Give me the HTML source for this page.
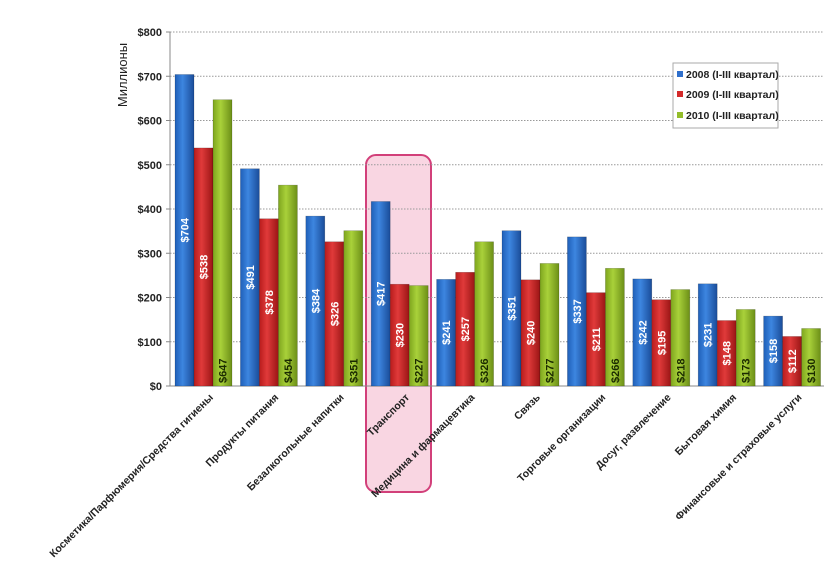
<!DOCTYPE html>
<html><head><meta charset="utf-8"><style>
body{margin:0;background:#fff;font-family:"Liberation Sans","DejaVu Sans",sans-serif}
svg{display:block}
</style></head><body>
<svg id="chart" width="828" height="565" viewBox="0 0 828 565" xmlns="http://www.w3.org/2000/svg">
<defs>
<linearGradient id="gb" x1="0" x2="1"><stop offset="0" stop-color="#1f5fb8"/><stop offset="0.4" stop-color="#3d86e0"/><stop offset="1" stop-color="#1a4c99"/></linearGradient>
<linearGradient id="gr" x1="0" x2="1"><stop offset="0" stop-color="#b81c1c"/><stop offset="0.4" stop-color="#e03a3a"/><stop offset="1" stop-color="#9a1515"/></linearGradient>
<linearGradient id="gg" x1="0" x2="1"><stop offset="0" stop-color="#7ea51e"/><stop offset="0.4" stop-color="#a9d13a"/><stop offset="1" stop-color="#6c8f17"/></linearGradient>
</defs>
<rect x="366" y="155" width="65" height="337" rx="10" fill="#f9d6e2" stroke="#d2407a" stroke-width="2"/>
<g id="grid"></g><g id="bars"></g><g id="labels"></g>
<text transform="translate(127,75) rotate(-90)" text-anchor="middle" font-size="13" fill="#222">Миллионы</text>
<g>
<rect x="673" y="63" width="105" height="65" fill="#fff" stroke="#aaa"/>
<rect x="677" y="71" width="6" height="6" fill="#2e6fcc"/>
<text x="686" y="78" font-size="10.5" font-weight="bold" fill="#222">2008 (I-III квартал)</text>
<rect x="677" y="91" width="6" height="6" fill="#d42a2a"/>
<text x="686" y="98" font-size="10.5" font-weight="bold" fill="#222">2009 (I-III квартал)</text>
<rect x="677" y="112" width="6" height="6" fill="#93bd2a"/>
<text x="686" y="119" font-size="10.5" font-weight="bold" fill="#222">2010 (I-III квартал)</text>
</g>
</svg>
<script>
const categories=["Косметика/Парфюмерия/Средства гигиены","Продукты питания","Безалкогольные напитки","Транспорт","Медицина и фармацевтика","Связь","Торговые организации","Досуг, развлечение","Бытовая химия","Финансовые и страховые услуги"];
const s2008=[704,491,384,417,241,351,337,242,231,158];
const s2009=[538,378,326,230,257,240,211,195,148,112];
const s2010=[647,454,351,227,326,277,266,218,173,130];
const ticks=[0,100,200,300,400,500,600,700,800];
const NS="http://www.w3.org/2000/svg";
const X0=170,X1=824,Y0=386,Y1=32;
const cw=(X1-X0)/categories.length;
const y=v=>Y0-(v/800)*(Y0-Y1);
function mk(t,a,p){const e=document.createElementNS(NS,t);for(const k in a)e.setAttribute(k,a[k]);p.appendChild(e);return e;}
const grid=document.getElementById('grid'),bars=document.getElementById('bars'),labels=document.getElementById('labels');
ticks.forEach(t=>{
 if(t>0){const l=mk('line',{x1:X0,x2:X1,y1:y(t),y2:y(t),stroke:'#999','stroke-dasharray':'1.5,1.5'},grid);
 
 }
 mk('line',{x1:X0-4,x2:X0,y1:y(t),y2:y(t),stroke:'#888'},grid);
 const tx=mk('text',{x:X0-8,y:y(t)+4,'text-anchor':'end','font-size':'11','font-weight':'bold',fill:'#222'},grid);
 tx.textContent='$'+t;
 
 
});
mk('line',{x1:X0,x2:X0,y1:Y1,y2:Y0,stroke:'#888'},grid);
mk('line',{x1:X0,x2:X1,y1:Y0,y2:Y0,stroke:'#888'},grid);
const series=[[s2008,'url(#gb)','2008'],[s2009,'url(#gr)','2009'],[s2010,'url(#gg)','2010']];
const bw=19;
categories.forEach((c,i)=>{
 const gx=X0+i*cw+5;
 series.forEach((s,j)=>{
  const v=s[0][i],bx=gx+j*bw,by=y(v);
  const r=mk('rect',{x:bx,y:by,width:bw,height:Y0-by,fill:s[1],stroke:'rgba(0,0,0,0.25)','stroke-width':'0.6'},bars);
  
  
  const cx=bx+bw/2+4;
  let ty,anchor,fill;
  if(j<2){ty=(by+Y0)/2;anchor='middle';fill='#fff';}else{ty=Y0-3;anchor='start';fill='#1a2a00';}
  const t=mk('text',{transform:`translate(${cx},${ty}) rotate(-90)`,'text-anchor':anchor,'font-size':'11','font-weight':'bold',fill:fill},labels);
  t.textContent='$'+v;
  
  
 });
 const lx=X0+i*cw+cw/2+11;
 const ct=mk('text',{transform:`translate(${lx},398) rotate(-45)`,'text-anchor':'end','font-size':'10.5','font-weight':'bold',fill:'#222'},labels);
 ct.textContent=c;
 
 
});
</script>
</body></html>
